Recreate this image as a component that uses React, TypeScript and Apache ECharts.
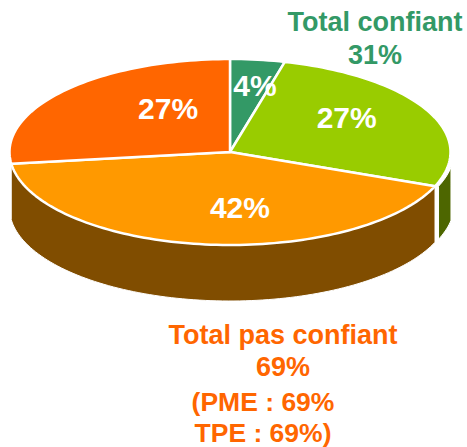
import React, { useEffect, useRef } from "react";
import * as echarts from "echarts";

const sliceNames = ["Très confiant", "Plutôt confiant", "Plutôt pas confiant", "Pas du tout confiant"];
const sliceValues = [4, 27, 42, 27];
const topColors = ["#339966", "#99CC00", "#FF9900", "#FF6600"];
const wallColors = ["#1A4D33", "#4D6600", "#804D00", "none"];
const confiantLines = ["Total confiant", "31%"];
const pasConfiantLines = ["Total pas confiant", "69%"];
const detailLines = ["(PME : 69%", "TPE : 69%)"];

const FONT = '"Liberation Sans", Arial, sans-serif';
// label anchors, in axis units (unit ellipse)
const LABEL_ANCHORS = [[0.113, 0.72], [0.529, 0.366], [0.045, -0.602], [-0.281, 0.473]];
// small horizontal shift of each wall, px, its depth, and the angle where its visible part starts
const WALL_SHIFT = [0, 3.5, 0, 0];
const WALL_DEPTH = [56, 53, 56, 56];
const WALL_FROM = [90, 99.5, 90, 90];

const total = sliceValues.reduce((a, b) => a + b, 0);
const startOf = (i: number) => (sliceValues.slice(0, i).reduce((a, b) => a + b, 0) / total) * 360;
const rad = (d: number) => (d * Math.PI) / 180;
const unit = (d: number) => [Math.sin(rad(d)), Math.cos(rad(d))];

function arc(api: any, a0: number, a1: number, dy = 0, dx = 0) {
  const pts: number[][] = [];
  const n = Math.max(2, Math.ceil(Math.abs(a1 - a0) / 1.5));
  for (let k = 0; k <= n; k++) {
    const p = api.coord(unit(a0 + ((a1 - a0) * k) / n));
    pts.push([p[0] + dx, p[1] + dy]);
  }
  return pts;
}

export default function App() {
  const ref = useRef<HTMLDivElement>(null);
  useEffect(() => {
    const chart = echarts.init(ref.current!, undefined, { renderer: "svg" });
    const data = sliceValues.map((v, i) => ({ name: sliceNames[i], value: [i, v] }));
    const clusterText = (lines: string[], color: string, x: number, ys: number[], size: number) =>
      lines.map((t, i) => ({
        type: "text" as const,
        x,
        y: ys[i],
        style: {
          text: t,
          fill: color,
          font: `bold ${size}px ${FONT}`,
          align: "center" as const,
          verticalAlign: "middle" as const,
        },
      }));
    chart.setOption({
      animation: false,
      backgroundColor: "#ffffff",
      grid: { left: 9.5, top: 59, width: 441, height: 186 },
      xAxis: { type: "value", min: -1, max: 1, show: false },
      yAxis: { type: "value", min: -1, max: 1, show: false },
      graphic: [
        ...clusterText(confiantLines, "#339966", 375, [22, 55], 27),
        ...clusterText(pasConfiantLines, "#FF6600", 283, [335, 367], 27),
        ...clusterText(detailLines, "#FF6600", 263, [402, 432.5], 26.5),
      ],
      series: [
        {
          type: "custom",
          clip: false,
          silent: true,
          z: 1,
          data,
          renderItem: (params: any, api: any) => {
            const i = api.value(0);
            const a0 = Math.max(startOf(i), WALL_FROM[i]);
            const a1 = Math.min(startOf(i + 1), 270);
            if (a1 <= a0 || wallColors[i] === "none") return { type: "group", children: [] };
            const top = arc(api, a0, a1, 0, WALL_SHIFT[i]);
            const bottom = arc(api, a1, a0, WALL_DEPTH[i], WALL_SHIFT[i]);
            return {
              type: "polygon",
              shape: { points: top.concat(bottom) },
              style: { fill: wallColors[i], stroke: "#ffffff", lineWidth: 1 },
            };
          },
        },
        {
          type: "custom",
          clip: false,
          silent: true,
          z: 2,
          data,
          renderItem: (params: any, api: any) => {
            const i = api.value(0);
            const c = api.coord([0, 0]);
            return {
              type: "polygon",
              shape: { points: [c].concat(arc(api, startOf(i), startOf(i + 1))) },
              style: { fill: topColors[i], stroke: "#ffffff", lineWidth: 2.5, lineJoin: "round" },
            };
          },
        },
        {
          type: "custom",
          clip: false,
          silent: true,
          z: 3,
          data,
          renderItem: (params: any, api: any) => {
            const i = api.value(0);
            const p = api.coord(LABEL_ANCHORS[i]);
            return {
              type: "text",
              x: p[0],
              y: p[1],
              style: {
                text: `${api.value(1)}%`,
                fill: "#ffffff",
                font: `bold 30px ${FONT}`,
                align: "center",
                verticalAlign: "middle",
              },
            };
          },
        },
      ],
    });
    return () => chart.dispose();
  }, []);
  return <div ref={ref} style={{ position: "absolute", left: 0, top: 0, width: 467, height: 447 }} />;
}
